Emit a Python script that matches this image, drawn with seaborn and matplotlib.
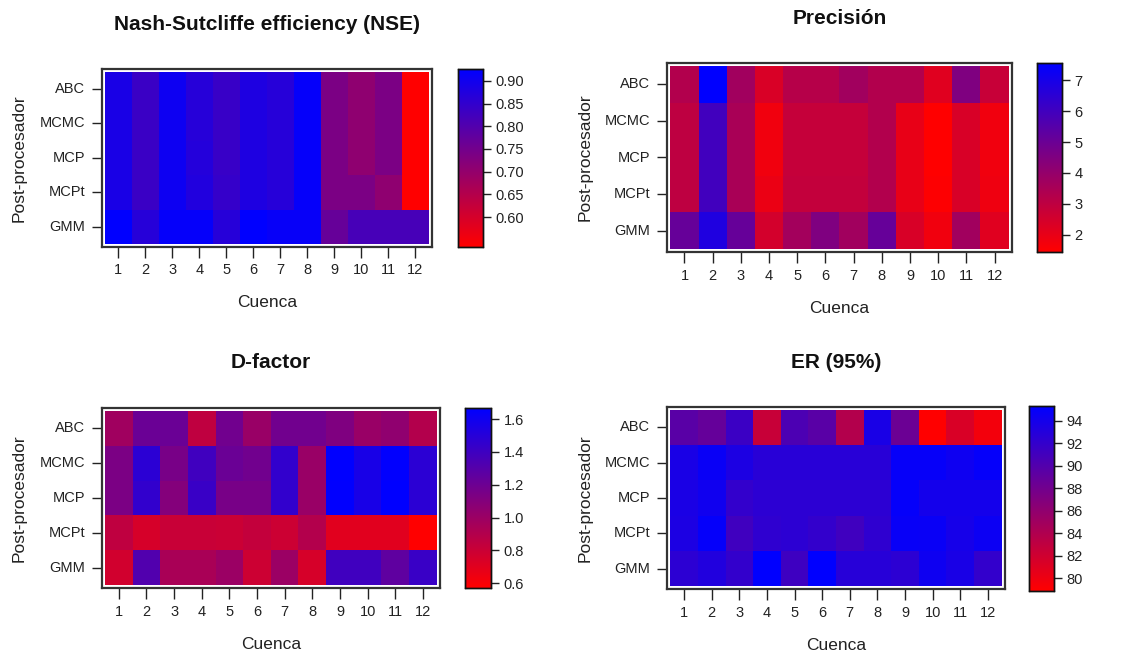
import numpy as np
import pandas as pd
import matplotlib
matplotlib.use("Agg")
import matplotlib.pyplot as plt
import seaborn as sns
from matplotlib.colors import LinearSegmentedColormap

sns.set_theme(style="white")
plt.rcParams['font.family'] = ['Liberation Sans', 'DejaVu Sans']

cuencas = [str(i) for i in range(1, 13)]
postprocesadores = ["ABC", "MCMC", "MCP", "MCPt", "GMM"]

nse_abc  = [0.887, 0.836, 0.906, 0.867, 0.840, 0.880, 0.867, 0.918, 0.738, 0.707, 0.738, 0.535]
nse_mcmc = [0.887, 0.836, 0.906, 0.867, 0.840, 0.880, 0.867, 0.918, 0.738, 0.707, 0.738, 0.535]
nse_mcp  = [0.887, 0.836, 0.906, 0.870, 0.840, 0.880, 0.867, 0.918, 0.738, 0.707, 0.738, 0.535]
nse_mcpt = [0.887, 0.836, 0.906, 0.875, 0.845, 0.880, 0.867, 0.918, 0.738, 0.738, 0.707, 0.535]
nse_gmm  = [0.926, 0.867, 0.918, 0.918, 0.867, 0.926, 0.914, 0.914, 0.770, 0.817, 0.817, 0.817]

prec_abc  = [3.3, 7.55, 3.7, 2.37, 3.2, 3.2, 3.7, 3.3, 3.3, 2.2, 4.5, 2.8]
prec_mcmc = [3.0, 6.0, 3.5, 1.8, 2.85, 2.85, 2.85, 3.3, 2.0, 1.45, 2.4, 1.8]
prec_mcp  = [3.0, 6.0, 3.5, 1.8, 2.85, 2.85, 2.85, 3.3, 2.0, 1.45, 2.4, 1.8]
prec_mcpt = [3.0, 6.0, 3.5, 1.95, 2.9, 2.9, 2.9, 3.3, 2.0, 1.5, 2.4, 1.85]
prec_gmm  = [5.1, 6.8, 5.1, 2.5, 3.65, 4.5, 3.7, 5.1, 2.4, 1.8, 3.7, 2.2]

dfac_abc  = [0.98, 1.21, 1.21, 0.845, 1.18, 1.01, 1.18, 1.18, 1.12, 1.01, 1.05, 0.90]
dfac_mcmc = [1.14, 1.48, 1.15, 1.39, 1.21, 1.18, 1.45, 1.01, 1.667, 1.56, 1.66, 1.48]
dfac_mcp  = [1.14, 1.45, 1.10, 1.42, 1.15, 1.15, 1.45, 1.01, 1.66, 1.56, 1.667, 1.48]
dfac_mcpt = [0.845, 0.75, 0.81, 0.81, 0.80, 0.83, 0.79, 0.90, 0.70, 0.70, 0.70, 0.571]
dfac_gmm  = [0.77, 1.32, 0.94, 0.94, 1.00, 0.79, 1.00, 0.75, 1.39, 1.39, 1.26, 1.42]

er_abc  = [89.6, 88.8, 91.5, 82.5, 90.4, 89.6, 83.8, 93.7, 88.4, 78.9, 81.4, 79.7]
er_mcmc = [93.7, 94.7, 93.5, 92.7, 92.7, 92.7, 92.7, 92.7, 94.9, 94.9, 94.4, 95.0]
er_mcp  = [93.6, 94.3, 92.0, 92.5, 92.5, 92.5, 92.5, 92.5, 95.0, 94.0, 94.0, 94.0]
er_mcpt = [93.5, 95.0, 91.2, 92.3, 92.5, 92.0, 91.2, 92.3, 94.8, 94.7, 93.9, 94.5]
er_gmm  = [92.5, 93.2, 92.0, 95.33, 91.3, 95.3, 92.8, 92.8, 92.5, 94.4, 93.7, 92.0]

titles = ["Nash-Sutcliffe efficiency (NSE)", "Precisión", "D-factor", "ER (95%)"]
cbar_ticks = [[0.60, 0.65, 0.70, 0.75, 0.80, 0.85, 0.90],
              [2, 3, 4, 5, 6, 7],
              [0.6, 0.8, 1.0, 1.2, 1.4, 1.6],
              [80, 82, 84, 86, 88, 90, 92, 94]]
cbar_fmt = ["{:.2f}", "{:.0f}", "{:.1f}", "{:.0f}"]

tables = [
    [nse_abc, nse_mcmc, nse_mcp, nse_mcpt, nse_gmm],
    [prec_abc, prec_mcmc, prec_mcp, prec_mcpt, prec_gmm],
    [dfac_abc, dfac_mcmc, dfac_mcp, dfac_mcpt, dfac_gmm],
    [er_abc, er_mcmc, er_mcp, er_mcpt, er_gmm],
]

W, H = 1129, 653
fig = plt.figure(figsize=(W / 100, H / 100), dpi=100)
fig.patch.set_facecolor("white")

def rect(x0, y0, x1, y1):
    return [x0 / W, 1 - y1 / H, (x1 - x0) / W, (y1 - y0) / H]

ax_boxes = [(101.7, 69, 432, 246.7), (667, 63, 1012, 252),
            (101.7, 408, 440, 588), (667, 407, 1005, 589)]
cb_boxes = [(457.7, 69, 482.7, 246.7), (1037, 63, 1062, 252),
            (465, 408, 491, 588), (1029, 406, 1054, 590.7)]
title_y = [25, 19, 363, 363]

cmap = LinearSegmentedColormap.from_list("rb", ["#FF0000", "#0000FF"], N=256)

for i in range(4):
    df = pd.DataFrame(tables[i], index=postprocesadores, columns=cuencas)
    ax = fig.add_axes(rect(*ax_boxes[i]))
    cax = fig.add_axes(rect(*cb_boxes[i]))
    vals = np.array(tables[i])
    sns.heatmap(df, ax=ax, cmap=cmap, vmin=vals.min(), vmax=vals.max(),
                cbar=True, cbar_ax=cax, linewidths=0)
    ax.set_xlim(-0.12, 12.12)
    ax.set_ylim(5.08, -0.08)
    for s in ax.spines.values():
        s.set_visible(True)
        s.set_color("#333333")
        s.set_linewidth(1.6)
    ax.tick_params(axis="x", bottom=True, length=8, width=1, color="#222222",
                   labelsize=10.5, pad=4, labelcolor="#222222", rotation=0)
    ax.tick_params(axis="y", left=True, length=7, width=1, color="#222222",
                   labelsize=10.5, pad=5, labelcolor="#222222", rotation=0)
    ax.set_xlabel("Cuenca", fontsize=12.5, labelpad=13, color="#222222")
    ax.set_ylabel("Post-procesador", fontsize=12.5, labelpad=9, color="#222222")
    bx = ax_boxes[i]
    fig.text((bx[0] + bx[2]) / 2 / W, 1 - title_y[i] / H, titles[i],
             ha="center", va="center", fontsize=15, fontweight="bold", color="#111111")
    cax.set_yticks(cbar_ticks[i])
    cax.set_yticklabels([cbar_fmt[i].format(t) for t in cbar_ticks[i]])
    cax.tick_params(axis="y", right=True, length=6, width=1, color="#222222",
                    labelsize=10.5, pad=3, labelcolor="#222222")
    for s in cax.spines.values():
        s.set_visible(True)
        s.set_color("#111111")
        s.set_linewidth(1.0)

fig.savefig("out.png", dpi=100, facecolor="white")
